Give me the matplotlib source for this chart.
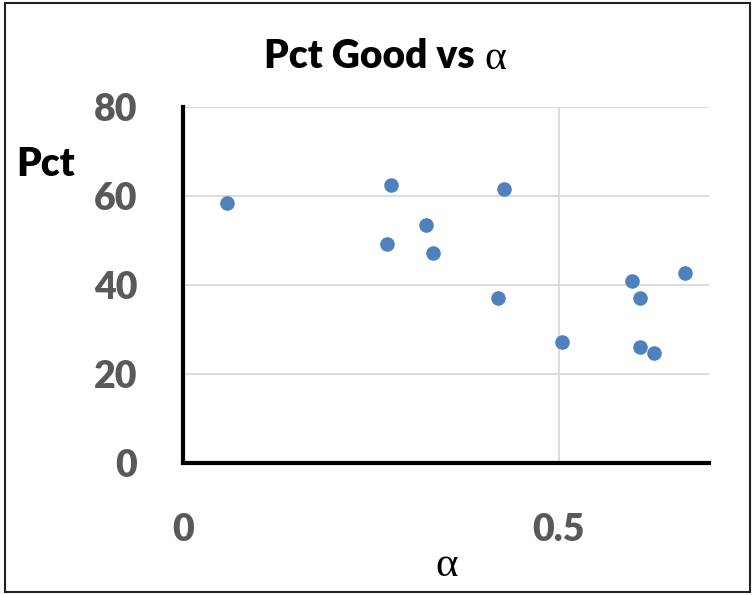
import matplotlib.pyplot as plt
from matplotlib.patches import Rectangle

# valores
alpha = [0.059, 0.277, 0.272, 0.323, 0.333, 0.427, 0.419, 0.504, 0.597, 0.608, 0.668, 0.608, 0.627]
pct = [58.4, 62.5, 49.2, 53.5, 47.2, 61.6, 37.1, 27.2, 40.9, 37.1, 42.7, 26.1, 24.7]
xticks = [0, 0.5]
yticks = [0, 20, 40, 60, 80]

cinza = '#595959'
fonte = 'Lato'

fig = plt.figure(figsize=(7.54, 5.95), dpi=100)
ax = fig.add_axes([183/754, 132/595, 526/754, 356/595])

ax.scatter(alpha, pct, s=110, color='#4f81bd', zorder=3, linewidths=0)

ax.set_xlim(0, 0.7)
ax.set_ylim(0, 80)
ax.set_xticks(xticks)
ax.set_xticklabels(['0', '0.5'])
ax.set_yticks(yticks)
ax.grid(True, color='#d9d9d9', lw=1.3)
ax.set_axisbelow(True)
ax.tick_params(length=0, labelsize=27, labelcolor=cinza, pad=0)
ax.tick_params(axis='x', pad=36)
ax.tick_params(axis='y', pad=33)
for lb in ax.get_xticklabels() + ax.get_yticklabels():
    lb.set_fontweight('heavy')
    lb.set_family(fonte)

for s in ['top', 'right']:
    ax.spines[s].set_visible(False)
for s in ['left', 'bottom']:
    ax.spines[s].set_linewidth(3)
    ax.spines[s].set_color('black')

# título: texto + alfa em fonte serifada
t1 = fig.text(0, 1 - 57/595, 'Pct Good vs ', ha='left', va='center',
              fontsize=28, fontweight='heavy', family=fonte)
t2 = fig.text(0, 1 - 59/595, 'α', ha='left', va='center',
              fontsize=30, family='Liberation Serif')
r = fig.canvas.get_renderer()
w1 = t1.get_window_extent(r).width
w2 = t2.get_window_extent(r).width
x0 = 385 - (w1 + w2) / 2
t1.set_x(x0 / 754)
t2.set_x((x0 + w1) / 754)

fig.text(46/754, 1 - 164/595, 'Pct', ha='center', va='center',
         fontsize=28, fontweight='heavy', family=fonte)
fig.text(447/754, 1 - 566/595, 'α', ha='center', va='center',
         fontsize=31, family='Liberation Serif')

# moldura externa
fig.patches.append(Rectangle((5/754, 3/595), 745/754, 589/595, transform=fig.transFigure,
                             fill=False, edgecolor='#222222', lw=1.5))

fig.savefig('out.png', dpi=100)
